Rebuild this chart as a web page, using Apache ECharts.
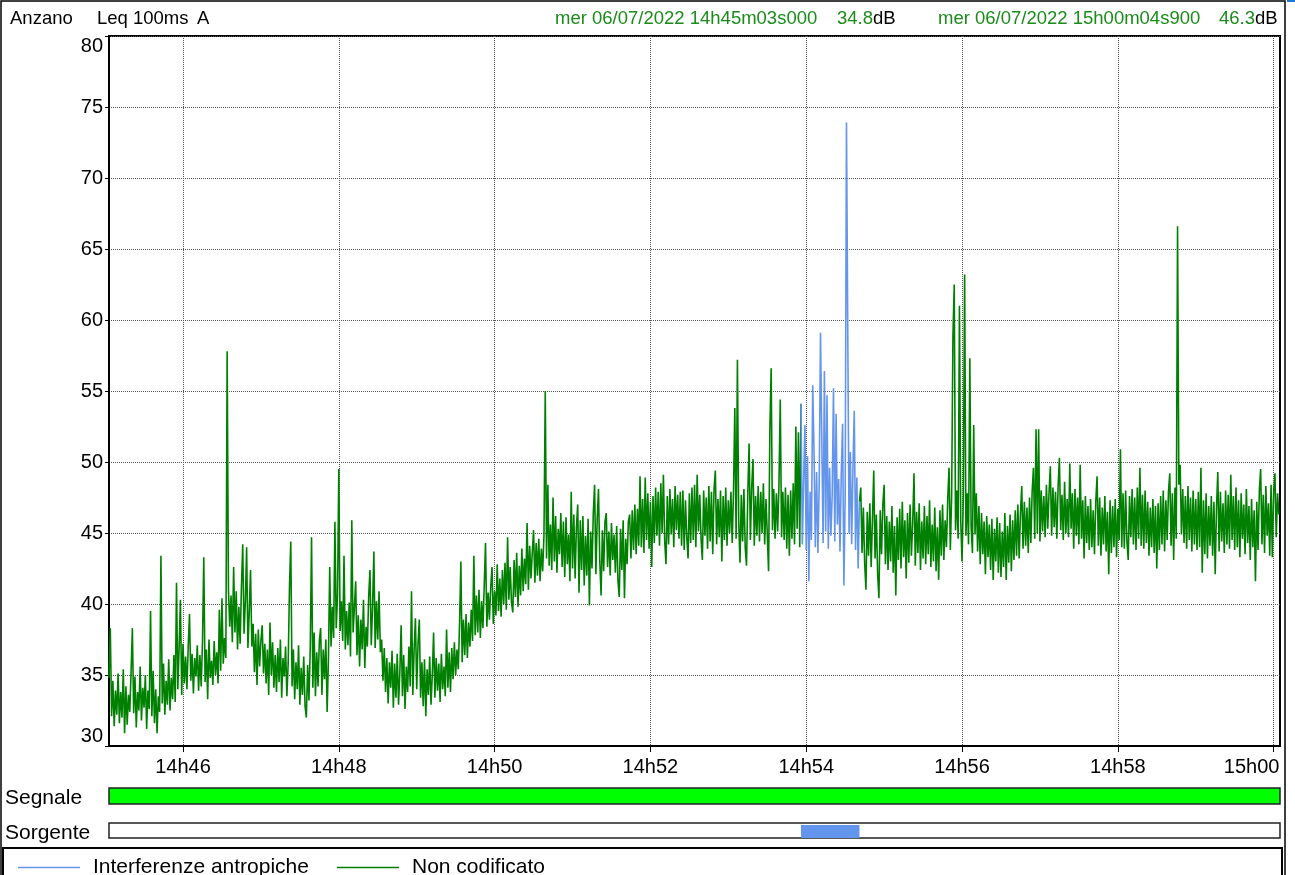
<!DOCTYPE html>
<html><head><meta charset="utf-8">
<script src="https://cdn.jsdelivr.net/npm/echarts@6/dist/echarts.min.js"></script>
<style>html,body{margin:0;padding:0;background:#fff}#c{width:1295px;height:875px}</style>
</head><body><div id="c"></div>
<script>
// ---- data ----
const stationName = 'Anzano';
const measureLabel = 'Leq 100ms';
const weighting = 'A';
const dayLabel = 'mer 06/07/2022';
const startTime = '14h45m03s000';
const endTime = '15h00m04s900';
const startValue = '34.8';
const endValue = '46.3';
const stepSeconds = 1;
const tickLabels = ['14h46','14h48','14h50','14h52','14h54','14h56','14h58','15h00'];
const seriesNames = ['Interferenze antropiche', 'Non codificato'];
const rowNames = ['Segnale', 'Sorgente'];
const interferenceSpan = [533, 578]; // sample indices coded as "Interferenze antropiche"
const levels = [
34.8,38.3,32.1,34.6,31.4,33.9,32.2,35.1,31.6,33.8,
32.0,35.4,30.9,34.2,31.5,33.6,32.4,35.2,38.3,32.3,
34.9,31.3,33.8,32.5,35.6,31.8,34.1,32.7,35.0,31.2,
33.9,32.6,39.5,32.1,35.3,31.6,34.0,30.9,33.5,32.4,
43.4,33.0,35.8,32.2,34.6,32.9,36.1,32.5,34.8,33.3,
36.4,33.1,41.5,34.0,36.9,40.3,33.6,37.2,34.4,36.3,
34.0,37.0,39.3,34.6,36.5,33.7,36.2,34.9,37.1,33.9,
36.4,34.2,37.3,43.3,34.5,36.8,33.3,37.5,34.8,36.0,
34.3,37.4,35.0,36.6,34.4,39.6,35.3,40.4,35.8,37.6,
36.2,57.8,41.0,38.4,40.6,37.3,42.6,38.0,40.9,36.8,
39.8,37.2,41.2,44.2,37.9,40.1,44.0,36.9,39.4,42.4,
37.0,38.6,35.2,37.9,34.3,38.2,35.6,37.4,38.5,35.1,
37.2,34.4,36.8,33.6,38.7,35.0,37.3,34.1,36.4,33.8,
36.9,34.5,37.5,33.4,36.2,34.9,37.0,33.5,35.8,41.2,
44.4,34.2,36.8,33.3,35.9,34.0,37.1,32.9,35.5,33.6,
36.3,32.8,32.0,35.7,33.2,36.9,44.7,34.1,38.0,33.5,
36.6,34.2,37.4,38.3,33.6,36.8,34.7,37.5,32.4,36.1,
42.6,37.0,39.8,37.6,45.8,38.3,40.6,49.5,38.1,40.2,
37.4,43.4,36.8,39.5,37.1,40.1,36.3,45.9,38.0,39.7,
41.6,36.4,39.2,35.6,38.9,36.8,40.3,35.5,38.4,37.0,
40.5,42.4,37.1,39.8,43.7,36.9,40.2,37.5,40.9,36.6,
37.5,34.6,36.9,33.8,36.2,33.0,35.9,34.1,36.7,32.7,
35.8,33.4,36.5,32.9,35.2,38.5,33.5,36.4,32.6,35.6,
33.8,37.0,34.2,40.9,33.6,36.8,39.0,34.0,37.2,38.9,
33.4,35.9,32.8,36.1,32.1,35.4,33.6,36.3,32.9,35.0,
38.0,33.4,36.2,33.9,35.8,33.1,36.5,34.0,35.6,33.5,
38.2,34.1,36.6,33.8,36.9,34.7,37.3,35.0,36.8,35.4,
38.6,43.0,35.9,38.9,36.4,39.3,36.2,38.7,37.0,39.6,
37.4,43.4,37.8,40.6,38.0,41.0,37.6,40.2,38.3,41.3,
44.3,38.4,40.8,38.9,41.2,42.6,38.6,40.9,39.2,42.8,
39.5,41.8,39.1,42.4,40.0,42.9,39.6,44.7,40.3,42.6,
40.1,39.4,43.1,40.5,43.6,39.8,42.7,40.6,43.9,40.9,
43.2,41.4,45.7,41.0,44.1,41.8,43.6,45.2,41.5,44.3,
42.0,44.6,41.6,43.9,42.3,44.8,55.0,43.2,48.4,42.7,
45.6,42.4,47.5,43.0,46.2,42.2,45.3,43.5,46.4,42.6,
45.8,41.9,46.1,42.8,44.9,41.6,47.9,42.5,46.3,41.8,
45.4,47.0,40.8,45.9,42.4,46.2,41.3,44.8,42.0,46.0,
39.9,45.1,42.5,46.4,48.4,42.1,46.0,48.1,43.0,40.6,
45.2,42.3,45.8,46.4,42.6,45.1,42.0,45.7,43.1,44.9,
42.2,45.5,41.6,40.5,45.3,42.4,45.9,40.4,44.6,42.8,
45.8,46.3,43.2,46.6,43.8,47.0,43.5,46.7,44.1,49.0,
44.0,47.4,43.6,48.9,44.5,47.8,43.9,47.2,42.6,47.6,
44.3,48.2,44.8,47.9,44.1,48.5,45.0,49.1,44.4,42.8,
47.6,44.2,48.1,44.9,47.4,44.0,48.3,45.2,47.7,44.6,
47.9,44.1,48.0,43.8,47.3,44.7,43.2,47.8,44.3,48.2,
44.5,48.4,44.0,49.1,45.1,47.7,44.6,43.1,48.0,44.8,
47.5,43.9,48.3,44.4,47.9,43.5,48.1,49.4,44.2,47.4,
44.7,48.0,43.0,47.6,44.5,48.2,44.1,47.3,45.0,47.9,
44.3,48.0,53.8,44.6,57.2,45.8,42.9,47.7,44.4,48.1,
44.0,42.7,47.8,51.3,44.5,48.2,50.2,44.1,47.6,44.8,
48.3,44.4,47.9,45.0,48.5,44.2,47.4,44.9,42.3,52.3,
56.6,45.2,48.1,44.6,47.8,45.1,48.4,54.4,44.7,47.9,
44.5,48.2,43.9,47.7,43.4,48.0,44.6,48.5,44.2,52.5,
45.3,52.1,44.0,
54.1,44.2,48.7,52.6,43.8,50.4,41.6,47.9,44.5,55.4,
50.8,44.0,49.3,43.6,48.5,59.1,51.6,44.3,56.4,45.1,
54.7,43.9,49.6,44.8,47.7,55.2,44.4,53.4,45.6,48.8,
43.7,49.2,52.7,41.3,47.5,73.9,59.1,45.0,50.7,44.2,
49.6,53.6,43.8,48.9,42.5,47.2,
48.2,43.6,46.8,42.9,41.0,46.5,43.4,47.1,42.6,45.9,
49.4,43.2,46.3,42.1,40.4,46.6,43.5,47.0,48.4,42.8,
46.2,42.4,45.8,43.0,46.9,42.2,45.5,40.6,46.1,43.1,
46.7,42.5,47.2,43.3,45.9,41.8,46.4,42.9,47.0,43.4,
45.7,49.2,42.7,46.5,43.6,47.1,42.4,45.8,43.2,46.9,
42.8,46.2,43.5,47.3,42.6,45.6,43.0,46.8,42.3,45.4,
41.7,46.6,43.4,47.0,43.1,45.9,44.0,47.4,49.6,43.8,
47.6,58.9,62.5,45.2,48.0,44.6,61.0,45.9,43.0,47.5,
63.2,44.8,47.8,44.2,57.3,45.5,43.6,52.6,44.9,47.8,
43.7,46.9,42.8,46.4,43.5,45.8,42.1,46.2,43.3,45.6,
42.4,46.0,41.7,45.3,43.0,46.1,42.2,45.7,41.9,45.1,
42.6,46.4,41.7,45.5,42.9,46.3,42.3,45.9,43.1,46.6,
43.4,47.0,43.2,46.4,48.3,43.9,47.2,44.1,46.8,43.6,
47.5,44.3,47.9,49.6,44.6,52.3,45.0,52.3,44.4,48.0,
45.1,47.6,44.7,48.4,45.3,47.8,49.7,44.8,48.2,45.4,
47.9,44.6,48.3,50.3,45.2,47.7,44.5,48.6,45.0,47.4,
44.7,49.9,45.3,47.8,43.9,48.1,44.8,47.5,44.2,49.8,
44.6,47.3,43.2,47.6,44.3,46.9,43.8,47.4,44.0,46.6,
43.5,47.2,49.0,44.1,47.5,43.4,46.8,44.2,47.6,43.7,
46.5,42.1,47.3,43.6,46.9,44.0,47.4,43.3,46.7,44.5,
50.9,44.0,47.8,43.9,48.0,44.4,43.1,47.6,44.7,48.1,
44.2,47.5,43.8,48.2,44.6,49.6,44.1,47.7,43.9,48.0,
44.3,47.2,43.4,46.8,44.0,47.4,43.6,46.9,42.5,47.1,
43.8,47.6,44.2,48.0,43.7,47.3,44.5,47.9,49.2,44.1,
47.8,43.1,48.2,44.6,66.6,48.4,49.8,44.9,48.1,44.3,
47.6,43.9,48.3,44.5,47.5,43.7,48.0,44.2,47.4,43.8,
47.9,44.0,49.6,42.2,47.3,43.5,47.8,43.2,46.9,44.1,
47.6,43.4,47.2,42.1,46.8,49.3,43.7,47.9,44.4,47.1,
43.6,48.0,44.2,47.7,43.9,49.1,44.5,47.6,43.8,48.2,
44.0,47.3,43.3,47.8,44.6,47.0,43.5,48.1,44.3,46.9,
43.1,47.4,44.0,46.6,41.6,47.2,43.8,48.0,49.5,44.2,
47.7,43.6,48.3,44.8,47.1,43.4,48.4,43.3,47.9,49.2,
44.7,47.8,46.3
];

// ---- build ----
const FONT = '"Liberation Sans", Arial, sans-serif';
const BLUE = '#6495ed', GREEN = '#008000', TEXTGREEN = '#1a8c1a';
function toSec(s) {
  const m = s.match(/(\d+)h(\d+)(?:m(\d+)s(\d+))?/);
  return (+m[1]) * 3600 + (+m[2]) * 60 + (m[3] ? +m[3] : 0) + (m[4] ? (+m[4]) / 1000 : 0);
}
const t0 = toSec(startTime), t1 = toSec(endTime);
const tickVals = tickLabels.map(toSec);
const xAt = i => t0 + i * stepSeconds;
const greenData = levels.map((v, i) => [xAt(i), (i > interferenceSpan[0] && i < interferenceSpan[1]) ? null : v]);
const blueData = levels.map((v, i) => [xAt(i), (i >= interferenceSpan[0] && i <= interferenceSpan[1]) ? v : null]);
const spanData = [[xAt(interferenceSpan[0]), xAt(interferenceSpan[1])]];

const L = 109, R = 15;
const chart = echarts.init(document.getElementById('c'), null, {renderer: 'canvas'});
const hiddenX = i => ({gridIndex: i, type: 'value', min: t0, max: t1, show: false});
const hiddenY = i => ({gridIndex: i, type: 'value', min: 0, max: 1, show: false});
const HF = 18.5;
chart.setOption({
  animation: false,
  backgroundColor: '#fff',
  textStyle: {fontFamily: FONT},
  grid: [
    {left: L, right: R, top: 36, bottom: 129, show: true, borderColor: '#000', borderWidth: 2, outerBoundsMode: 'none', containLabel: false},
    {left: L, right: R, top: 788, height: 16, show: true, backgroundColor: '#00ff00', borderColor: '#222', borderWidth: 1.5, outerBoundsMode: 'none'},
    {left: L, right: R, top: 823, height: 15, show: true, backgroundColor: '#fff', borderColor: '#222', borderWidth: 1.5, outerBoundsMode: 'none'}
  ],
  xAxis: [
    {gridIndex: 0, type: 'value', min: t0, max: t1,
     axisLine: {show: true, onZero: false, lineStyle: {color: '#000', width: 2}},
     axisTick: {show: true, length: 6, customValues: tickVals, lineStyle: {color: '#000'}},
     axisLabel: {customValues: tickVals, color: '#000', fontSize: 20, fontFamily: FONT, margin: 11,
       formatter: v => {
         const k = tickVals.findIndex(t => Math.abs(t - v) < 0.5);
         const s = k >= 0 ? tickLabels[k] : '';
         return k === tickVals.length - 1 ? '{last|' + s + '}' : s;
       },
       rich: {last: {fontSize: 20, fontFamily: FONT, color: '#000', padding: [0, 44, 0, 0]}}},
     splitLine: {show: true, lineStyle: {color: '#555', type: 'dotted', width: 1}}},
    hiddenX(1), hiddenX(2)
  ],
  yAxis: [
    {gridIndex: 0, type: 'value', min: 30, max: 80, interval: 5,
     axisLine: {show: true, lineStyle: {color: '#000', width: 2}},
     axisTick: {show: true, length: 4, lineStyle: {color: '#000'}},
     axisLabel: {color: '#000', fontSize: 20, fontFamily: FONT, margin: 6,
       verticalAlignMaxLabel: 'top', verticalAlignMinLabel: 'bottom'},
     splitLine: {show: true, lineStyle: {color: '#555', type: 'dotted', width: 1}}},
    hiddenY(1), hiddenY(2)
  ],
  legend: {
    left: 13, top: 852, itemWidth: 62, itemHeight: 1.5, itemGap: 28,
    data: [{name: seriesNames[0], icon: 'rect'}, {name: seriesNames[1], icon: 'rect'}],
    textStyle: {color: '#000', fontSize: 21, fontFamily: FONT, padding: [0, 0, 0, 8]},
    selectedMode: false
  },
  series: [
    {name: seriesNames[1], type: 'line', xAxisIndex: 0, yAxisIndex: 0, data: greenData,
     symbol: 'none', showSymbol: false, connectNulls: false, color: GREEN,
     lineStyle: {color: GREEN, width: 1.6}, z: 2},
    {name: seriesNames[0], type: 'line', xAxisIndex: 0, yAxisIndex: 0, data: blueData,
     symbol: 'none', showSymbol: false, connectNulls: false, color: BLUE,
     lineStyle: {color: BLUE, width: 1.6}, z: 3},
    {type: 'custom', xAxisIndex: 2, yAxisIndex: 2, data: spanData, encode: {x: [0, 1]},
     renderItem: (params, api) => {
       const a = api.coord([api.value(0), 0]);
       const b = api.coord([api.value(1), 1]);
       return {type: 'rect', shape: {x: a[0], y: b[1] + 2, width: b[0] - a[0], height: a[1] - b[1] - 2},
               style: {fill: BLUE}};
     }}
  ],
  graphic: [
    {type: 'rect', shape: {x: 1, y: 1, width: 1284, height: 890}, style: {fill: null, stroke: '#000', lineWidth: 1.5}, silent: true},
    {type: 'rect', shape: {x: 3, y: 848, width: 1279, height: 40}, style: {fill: null, stroke: '#000', lineWidth: 2}, silent: true},
    {type: 'line', shape: {x1: 1287, y1: 1, x2: 1295, y2: 1}, style: {stroke: '#1e78d2', lineWidth: 2}, silent: true},
    {type: 'text', left: 10, top: 9, style: {text: stationName, fontSize: HF, fontFamily: FONT, fill: '#000'}},
    {type: 'text', left: 97, top: 9, style: {text: measureLabel, fontSize: HF, fontFamily: FONT, fill: '#000'}},
    {type: 'text', left: 197, top: 9, style: {text: weighting, fontSize: HF, fontFamily: FONT, fill: '#000'}},
    {type: 'text', left: 555, top: 9, style: {text: dayLabel + ' ' + startTime, fontSize: HF, fontFamily: FONT, fill: TEXTGREEN}},
    {type: 'text', left: 837, top: 9, style: {text: '{g|' + startValue + '}{k|dB}', fontSize: HF, fontFamily: FONT,
      rich: {g: {fill: TEXTGREEN, fontSize: HF, fontFamily: FONT}, k: {fill: '#000', fontSize: HF, fontFamily: FONT}}}},
    {type: 'text', left: 938, top: 9, style: {text: dayLabel + ' ' + endTime, fontSize: HF, fontFamily: FONT, fill: TEXTGREEN}},
    {type: 'text', left: 1219, top: 9, style: {text: '{g|' + endValue + '}{k|dB}', fontSize: HF, fontFamily: FONT,
      rich: {g: {fill: TEXTGREEN, fontSize: HF, fontFamily: FONT}, k: {fill: '#000', fontSize: HF, fontFamily: FONT}}}},
    {type: 'text', left: 5, top: 788, style: {text: rowNames[0], fontSize: 21, fontFamily: FONT, fill: '#000'}},
    {type: 'text', left: 5, top: 823, style: {text: rowNames[1], fontSize: 21, fontFamily: FONT, fill: '#000'}}
  ]
});
</script></body></html>
